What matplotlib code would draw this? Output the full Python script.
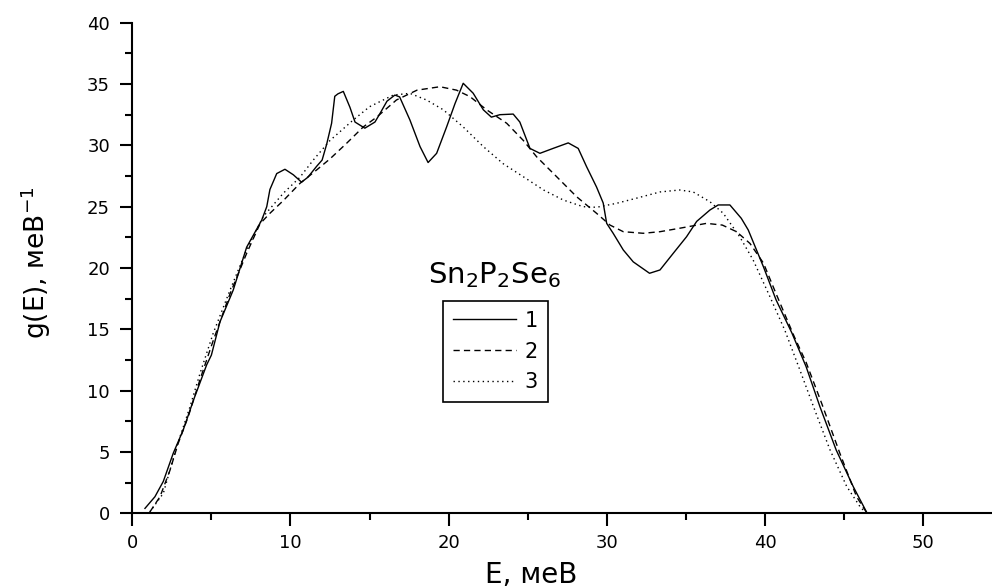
import matplotlib
matplotlib.use("Agg")
import matplotlib.pyplot as plt
from matplotlib.ticker import MultipleLocator

plt.rcParams['font.family'] = ['DejaVu Sans']
plt.rcParams['mathtext.fontset'] = 'dejavusans'

# Curve 1 (solid)
E1 = [0.8, 1.43, 1.96, 2.59, 3.22, 3.86, 4.7, 5.0, 5.54, 6.38, 7.23, 8.18, 8.5, 8.7, 9.13,
      9.65, 10.18, 10.7, 11.1, 11.66, 12.0, 12.29, 12.6, 12.8, 13.0, 13.34, 13.76, 14.08,
      14.7, 15.34, 15.66, 16.1, 16.6, 16.9, 17.55, 18.19, 18.7, 19.24, 19.87, 20.4, 20.92,
      21.55, 22.19, 22.7, 23.24, 24.08, 24.5, 25.14, 25.77, 26.6, 27.56, 28.19, 28.72,
      29.35, 29.77, 29.99, 30.4, 31.04, 31.67, 32.7, 33.36, 34.2, 35.04, 35.68, 36.52,
      37.04, 37.78, 38.5, 38.94, 39.9, 40.7, 41.7, 42.6, 43.47, 44.5, 45.58, 46.42]
g1 = [0.4, 1.35, 2.6, 4.9, 6.8, 9.2, 12.1, 12.9, 15.6, 18.2, 21.7, 23.9, 25.0, 26.4, 27.7,
      28.05, 27.6, 27.0, 27.4, 28.3, 28.8, 30.1, 31.8, 34.0, 34.2, 34.4, 33.1, 31.9,
      31.4, 31.9, 32.6, 33.6, 34.1, 33.95, 32.07, 29.9, 28.6, 29.35, 31.5, 33.4, 35.06,
      34.25, 32.9, 32.3, 32.5, 32.55, 31.9, 29.75, 29.35, 29.75, 30.2, 29.75, 28.26,
      26.6, 25.3, 23.64, 22.83, 21.47, 20.5, 19.57, 19.84, 21.2, 22.55, 23.8, 24.73,
      25.14, 25.14, 24.05, 23.1, 20.1, 17.4, 14.7, 11.95, 8.7, 5.16, 2.17, 0.1]

# Curve 2 (dashed)
E2 = [1.12, 1.75, 2.38, 2.9, 3.54, 4.28, 5.12, 6.18, 7.23, 8.07, 8.7, 9.55, 10.6, 11.66,
      12.5, 13.55, 14.6, 15.45, 16.7, 18.0, 19.45, 20.5, 21.35, 22.4, 23.67, 24.72, 25.56,
      26.83, 28.1, 29.35, 30.2, 31.04, 32.3, 33.36, 34.6, 36.3, 37.3, 38.2, 39.05, 39.9,
      40.7, 41.85, 42.6, 43.58, 44.73, 45.79, 46.45]
g2 = [0.13, 1.35, 3.5, 5.7, 7.9, 10.9, 14.1, 17.9, 21.2, 23.6, 24.46, 25.5, 26.9, 28.0,
      28.9, 30.17, 31.5, 32.3, 33.7, 34.5, 34.78, 34.5, 33.97, 32.9, 31.8, 30.4, 29.07,
      27.44, 25.8, 24.46, 23.5, 22.96, 22.83, 22.96, 23.24, 23.64, 23.5, 22.96, 22.0, 20.4,
      17.9, 14.4, 12.3, 8.97, 4.9, 1.35, 0.0]

# Curve 3 (dotted)
E3 = [1.1, 1.96, 2.8, 3.65, 4.28, 5.12, 6.18, 7.23, 8.28, 9.55, 10.6, 11.44, 12.5, 13.97,
      15.0, 16.5, 17.55, 18.6, 19.66, 20.92, 22.19, 23.45, 24.72, 26.0, 27.25, 28.5, 29.35,
      30.6, 31.9, 33.36, 34.6, 35.46, 36.52, 37.36, 38.4, 39.25, 40.31, 41.26, 42.2, 43.15,
      44.1, 45.16, 46.0, 46.4]
g3 = [0.1, 1.63, 5.4, 8.7, 11.4, 14.7, 18.2, 21.5, 24.2, 26.1, 27.4, 28.8, 30.4, 32.07,
      33.15, 34.1, 34.24, 33.7, 32.9, 31.5, 29.9, 28.5, 27.44, 26.36, 25.54, 25.0, 24.95,
      25.27, 25.7, 26.2, 26.36, 26.2, 25.4, 24.46, 22.55, 20.65, 17.66, 14.9, 11.7, 8.4,
      5.2, 2.2, 0.55, 0.0]

labels = ["1", "2", "3"]
x_ticks = [0, 10, 20, 30, 40, 50]
y_ticks = [0, 5, 10, 15, 20, 25, 30, 35, 40]

fig = plt.figure(figsize=(9.92, 5.88), dpi=100)
ax = fig.add_axes([132.3 / 992, 1 - 513.3 / 588, (992 - 132.3) / 992, 490.6 / 588])

ax.plot(E1, g1, color='black', lw=1.0, ls='-', label=labels[0])
ax.plot(E2, g2, color='black', lw=1.0, ls=(0, (4.5, 3)), label=labels[1])
ax.plot(E3, g3, color='black', lw=1.0, ls=(0, (1, 2.5)), label=labels[2])

ax.set_xlim(0, 54.35)
ax.set_ylim(0, 40)
ax.set_xticks(x_ticks)
ax.set_yticks(y_ticks)
ax.xaxis.set_minor_locator(MultipleLocator(5))
ax.yaxis.set_minor_locator(MultipleLocator(2.5))

for s in ['top', 'right']:
    ax.spines[s].set_visible(False)
for s in ['left', 'bottom']:
    ax.spines[s].set_linewidth(1.5)
ax.spines['bottom'].set_clip_on(False)

ax.tick_params(which='major', direction='out', length=9, width=1.5, labelsize=13, pad=6)
ax.tick_params(which='minor', direction='out', length=5, width=1.5)
ax.tick_params(axis='y', which='major', pad=7)

ax.set_xlabel("E, меВ", fontsize=20)
ax.xaxis.set_label_coords(0.4638, -0.098)
ax.xaxis.label.set_va('top')
ax.set_ylabel("g(E), меВ$^{-1}$", fontsize=19)
ax.yaxis.set_label_coords(-0.092, 0.51)

leg = ax.legend(loc='upper left', bbox_to_anchor=(443.3 / 992, 1 - 300.7 / 588),
                bbox_transform=fig.transFigure, borderaxespad=0, fancybox=False,
                framealpha=1, edgecolor='black', fontsize=15, handlelength=3.0,
                handletextpad=0.43, labelspacing=0.52, borderpad=0.48)
leg.get_frame().set_linewidth(1.2)

fig.text(494 / 992, 1 - 283 / 588, r"Sn$_2$P$_2$Se$_6$", fontsize=21,
         ha='center', va='baseline')

fig.savefig("out.png", dpi=100)
